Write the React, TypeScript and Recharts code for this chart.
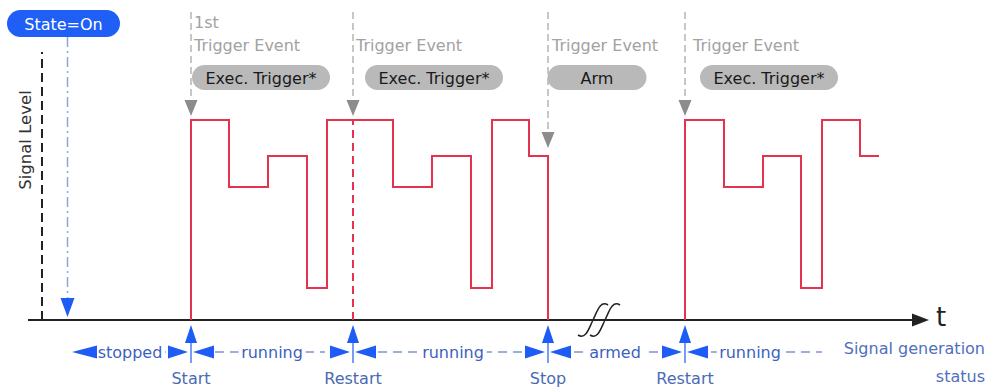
import React from 'react';
import { ComposedChart, Line, XAxis, YAxis, ReferenceLine, ReferenceDot } from 'recharts';

// time axis (t) and signal level (v)
const LEVEL_HIGH = 10;
const LEVEL_MID_HIGH = 8.2;
const LEVEL_MID_LOW = 6.65;
const LEVEL_LOW = 1.6;

// first run: Start -> Restart -> Stop
const SEG1_T = [149, 149, 187, 226, 265, 285, 351, 390, 429, 450, 487, 506, 506];
const SEG1_V = [0, LEVEL_HIGH, LEVEL_MID_LOW, LEVEL_MID_HIGH, LEVEL_LOW, LEVEL_HIGH, LEVEL_MID_LOW, LEVEL_MID_HIGH, LEVEL_LOW, LEVEL_HIGH, LEVEL_MID_HIGH, LEVEL_MID_HIGH, 0];
// second run after restart
const SEG2_T = [643, 643, 682, 721, 759, 780, 818, 837];
const SEG2_V = [0, LEVEL_HIGH, LEVEL_MID_LOW, LEVEL_MID_HIGH, LEVEL_LOW, LEVEL_HIGH, LEVEL_MID_HIGH, LEVEL_MID_HIGH];

const EVENT_T = [149, 311, 506, 643];
const EVENT_LABELS = ['Start', 'Restart', 'Stop', 'Restart'];
const EVENT_ARROW_TIP = [10.2, 10.2, 8.6, 10.2];
const EVENT_TEXT_T = [152, 314, 510, 651];

const PILL_LABELS = ['Exec. Trigger*', 'Exec. Trigger*', 'Arm', 'Exec. Trigger*'];
const PILL_T = [219, 392, 555, 727];
const PILL_W = [138, 138, 99, 138];

const STATUS_LABELS = ['stopped', 'running', 'running', 'armed', 'running'];
const STATUS_MID = [88, 230, 411, 573, 708];
const STATUS_FROM = [55, 173, 336, 532, 669];
const STATUS_TO = [126, 283, 484, 619, 780];

const RESTART_T = 311;
const STATE_ON_T = 25.5;

const seg1 = SEG1_T.map((t, i) => ({ t, v: SEG1_V[i] }));
const seg2 = SEG2_T.map((t, i) => ({ t, v: SEG2_V[i] }));

const FONT = '"DejaVu Sans", sans-serif';
const RED = '#e5334f';
const BLUE = '#1d5cf5';
const BLUE_TEXT = '#3d5fbf';
const GREY = '#a2a2a2';
const ROW_V = -1.6;

const tri = (dir: string, len: number, half: number, fill: string) => (p: any) => {
    const { cx, cy } = p;
    let pts = '';
    if (dir === 'down') pts = `${cx},${cy} ${cx - half},${cy - len} ${cx + half},${cy - len}`;
    if (dir === 'up') pts = `${cx},${cy} ${cx - half},${cy + len} ${cx + half},${cy + len}`;
    if (dir === 'right') pts = `${cx},${cy} ${cx - len},${cy - half} ${cx - len},${cy + half}`;
    if (dir === 'left') pts = `${cx},${cy} ${cx + len},${cy - half} ${cx + len},${cy + half}`;
    return <polygon points={pts} fill={fill} />;
};

const label = (txt: string, color: string, size: number, anchor: any = 'middle', extra: any = {}) => (p: any) => (
    <text x={p.cx} y={p.cy} textAnchor={anchor} dominantBaseline="central" fill={color} fontSize={size} fontFamily={FONT} {...extra}>
        {txt}
    </text>
);

const pill = (txt: string, w: number, h: number, fill: string, color: string) => (p: any) => (
    <g>
        <rect x={p.cx - w / 2} y={p.cy - h / 2} width={w} height={h} rx={h / 2} fill={fill} />
        <text x={p.cx} y={p.cy + 1} textAnchor="middle" dominantBaseline="central" fill={color} fontSize={16} fontFamily={FONT}>
            {txt}
        </text>
    </g>
);

const breakMark = (p: any) => {
    const s = (ox: number) =>
        `M ${ox - 15} ${p.cy + 15} C ${ox - 7} ${p.cy + 20} ${ox - 4} ${p.cy + 8} ${ox} ${p.cy} C ${ox + 4} ${p.cy - 8} ${ox + 7} ${p.cy - 20} ${ox + 15} ${p.cy - 15}`;
    return (
        <g fill="none" stroke="#222" strokeWidth={1.5}>
            <path d={s(p.cx)} />
            <path d={s(p.cx + 12)} />
        </g>
    );
};

export default function App() {
    return (
        <div style={{ position: 'absolute', left: 0, top: 0, width: 994, height: 387, background: '#fff' }}>
            <ComposedChart width={994} height={387} margin={{ top: 0, right: 0, bottom: 0, left: 0 }}>
                <XAxis type="number" dataKey="t" domain={[-42, 952]} allowDataOverflow hide />
                <YAxis type="number" domain={[-3.35, 16]} allowDataOverflow hide />

                {/* level axis (dashed) and time axis */}
                <ReferenceLine segment={[{ x: 0, y: 0 }, { x: 0, y: 13.4 }]} stroke="#222" strokeWidth={2} strokeDasharray="9 5" />
                <ReferenceLine segment={[{ x: -14, y: 0 }, { x: 872, y: 0 }]} stroke="#222" strokeWidth={2} />
                <ReferenceDot x={887} y={0} shape={tri('right', 17, 6.5, '#222')} />
                <ReferenceDot x={899} y={0.15} shape={label('t', '#222', 26)} />
                <ReferenceDot x={551} y={0} shape={breakMark} />
                <ReferenceDot x={-17} y={9} shape={(p: any) => (
                    <text x={p.cx} y={p.cy} textAnchor="middle" dominantBaseline="central" fill="#333" fontSize={16.5} fontFamily={FONT} transform={`rotate(-90 ${p.cx} ${p.cy})`}>
                        Signal Level
                    </text>
                )} />

                {/* State=On */}
                <ReferenceLine segment={[{ x: STATE_ON_T, y: 14.15 }, { x: STATE_ON_T, y: 1.1 }]} stroke="#8ea3d6" strokeWidth={1.5} strokeDasharray="10 4 2 4" />
                <ReferenceDot x={STATE_ON_T} y={0.15} shape={tri('down', 19, 7, BLUE)} />
                <ReferenceDot x={21.5} y={14.825} shape={pill('State=On', 113, 27, '#1f5ff5', '#fff')} />

                {/* trigger events */}
                {EVENT_T.map((t, i) => (
                    <ReferenceLine key={`tl${i}`} segment={[{ x: t, y: 15.4 }, { x: t, y: EVENT_ARROW_TIP[i] + 0.8 }]} stroke="#aaaaaa" strokeWidth={1.3} strokeDasharray="7 4" />
                ))}
                {EVENT_T.map((t, i) => (
                    <ReferenceDot key={`ta${i}`} x={t} y={EVENT_ARROW_TIP[i]} shape={tri('down', 16, 6.5, '#8c8c8c')} />
                ))}
                <ReferenceDot x={EVENT_TEXT_T[0]} y={14.9} shape={label('1st', GREY, 16, 'start')} />
                {EVENT_TEXT_T.map((t, i) => (
                    <ReferenceDot key={`tt${i}`} x={t} y={13.75} shape={label('Trigger Event', GREY, 16, 'start')} />
                ))}
                {PILL_T.map((t, i) => (
                    <ReferenceDot key={`p${i}`} x={t} y={12.125} shape={pill(PILL_LABELS[i], PILL_W[i], 25, '#b9b9b9', '#1a1a1a')} />
                ))}

                {/* signal */}
                <ReferenceLine segment={[{ x: RESTART_T, y: 0 }, { x: RESTART_T, y: LEVEL_HIGH }]} stroke={RED} strokeWidth={2} strokeDasharray="8 5" />
                <Line data={seg1} dataKey="v" type="stepAfter" stroke={RED} strokeWidth={2} dot={false} activeDot={false} isAnimationActive={false} />
                <Line data={seg2} dataKey="v" type="stepAfter" stroke={RED} strokeWidth={2} dot={false} activeDot={false} isAnimationActive={false} />

                {/* generation status row */}
                {STATUS_FROM.map((t, i) => (
                    <ReferenceLine key={`sl${i}`} segment={[{ x: t, y: ROW_V }, { x: STATUS_TO[i], y: ROW_V }]} stroke={BLUE_TEXT} strokeWidth={1.2} strokeDasharray="9 6" />
                ))}
                {STATUS_MID.map((t, i) => (
                    <ReferenceDot key={`st${i}`} x={t} y={ROW_V} shape={label(STATUS_LABELS[i], BLUE_TEXT, 16, 'middle', { stroke: '#fff', strokeWidth: 8, paintOrder: 'stroke' })} />
                ))}
                <ReferenceDot x={30} y={ROW_V} shape={tri('left', 25, 6.5, BLUE)} />
                {EVENT_T.map((t, i) => (
                    <ReferenceLine key={`es${i}`} segment={[{ x: t, y: -1.15 }, { x: t, y: -2.15 }]} stroke={BLUE} strokeWidth={1.2} />
                ))}
                {EVENT_T.map((t, i) => (
                    <ReferenceDot key={`eu${i}`} x={t} y={-0.25} shape={tri('up', 18, 6, BLUE)} />
                ))}
                {EVENT_T.map((t, i) => (
                    <ReferenceDot key={`er${i}`} x={t - 3} y={ROW_V} shape={tri('right', 20, 6.5, BLUE)} />
                ))}
                {EVENT_T.map((t, i) => (
                    <ReferenceDot key={`el${i}`} x={t + 2} y={ROW_V} shape={tri('left', 21, 6.5, BLUE)} />
                ))}
                {EVENT_T.map((t, i) => (
                    <ReferenceDot key={`lb${i}`} x={t} y={-2.9} shape={label(EVENT_LABELS[i], '#4a6ab5', 16)} />
                ))}
                <ReferenceDot x={943} y={-1.4} shape={label('Signal generation', '#4f70bd', 16, 'end')} />
                <ReferenceDot x={943} y={-2.8} shape={label('status', '#4f70bd', 16, 'end')} />
            </ComposedChart>
        </div>
    );
}
